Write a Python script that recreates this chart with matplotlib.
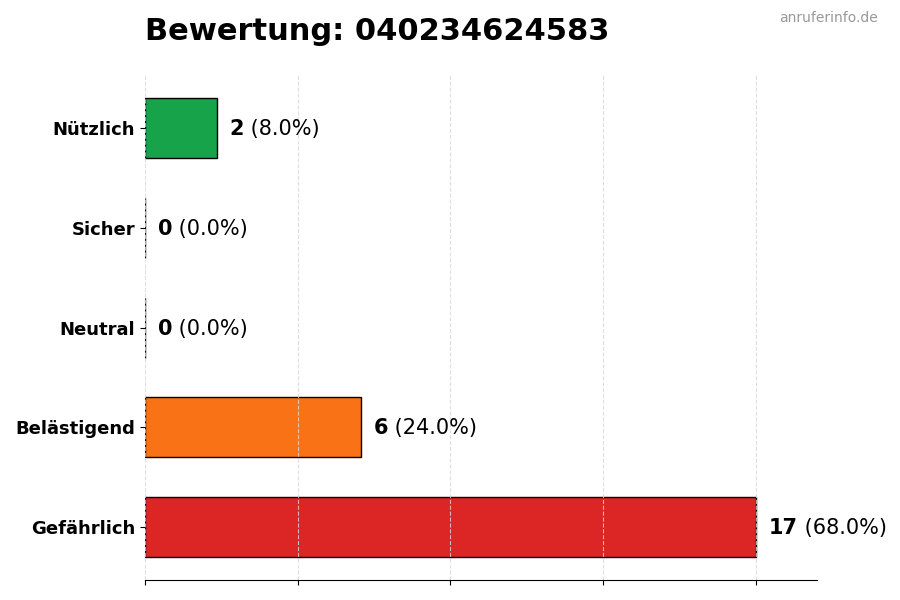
import numpy as np
import matplotlib
matplotlib.use("Agg")
import matplotlib.pyplot as plt

# Bewertungen (von oben nach unten)
kategorien = ["Nützlich", "Sicher", "Neutral", "Belästigend", "Gefährlich"]
anzahl = [2, 0, 0, 6, 17]
farben = ["#16a34a", "#6b7280", "#9ca3af", "#f97316", "#dc2626"]

gesamt = sum(anzahl)
y = np.arange(len(kategorien))[::-1]

fig = plt.figure(figsize=(9, 6), dpi=100)
ax = fig.add_axes([0.161, 0.033, 0.747, 0.842])

ax.barh(y, anzahl, height=0.6, color=farben, edgecolor="black", linewidth=1)
ax.set_yticks(y)
ax.set_yticklabels(kategorien, fontsize=13, fontweight="bold")

xmax = max(anzahl)
ax.set_xlim(0, xmax * 1.1)
ax.set_xticks(np.linspace(0, xmax, 5))
ax.set_xticklabels([])
ax.grid(axis="x", linestyle="--", color="#d8d8d8", alpha=0.8)

for s in ["top", "right", "left"]:
    ax.spines[s].set_visible(False)

# Beschriftung: Zahl fett, Prozent normal
for yi, n in zip(y, anzahl):
    pct = n / gesamt * 100
    t = ax.text(n + xmax * 0.021, yi - 0.01, str(n), fontsize=15,
                fontweight="bold", va="center", ha="left")
    ax.annotate(f" ({pct:.1f}%)", xycoords=t, xy=(1, 0.5), va="center",
                ha="left", fontsize=15)

fig.text(0.161, 0.947, "Bewertung: 040234624583", fontsize=22,
         fontweight="bold", ha="left", va="center")
fig.text(0.975, 0.97, "anruferinfo.de", fontsize=10, color="#999999",
         ha="right", va="center")

fig.savefig("out.png", dpi=100)
